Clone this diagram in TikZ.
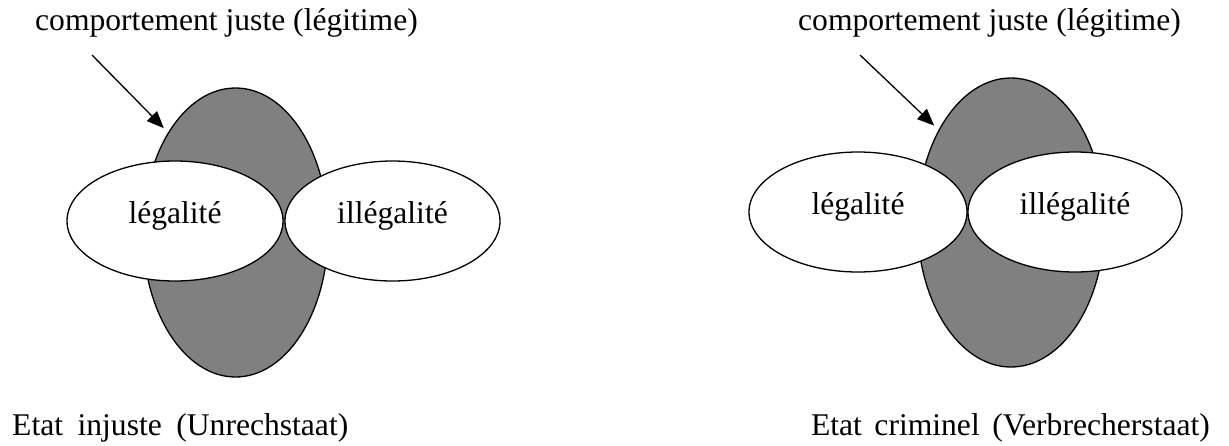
\documentclass[tikz,border=0pt]{standalone}
\usepackage{fontspec}
\setmainfont{Liberation Serif}
\usetikzlibrary{shapes.geometric,arrows.meta}
\tikzset{
  lbl/.style={font=\fontsize{31.6}{38}\selectfont, inner sep=0pt},
  grayell/.style={ellipse, draw=black, line width=1.3pt, fill={rgb,255:red,128;green,128;blue,128}, inner sep=0pt},
  whiteell/.style={ellipse, draw=black, line width=1.3pt, fill=white, inner sep=0pt,
    minimum width=216pt, minimum height=120pt,
    font=\fontsize{31.6}{38}\selectfont, text height=14pt, text depth=10pt},
  pointer/.style={line width=1.3pt, -{Triangle[length=17pt,width=14pt]}},
}
\begin{document}
\begin{tikzpicture}[x=1pt,y=-1pt]
\useasboundingbox (0,0) rectangle (1229,445);
% left diagram
\node[grayell, minimum width=185pt, minimum height=289pt] (grayL) at (235.5,232.5) {};
\node[whiteell] (legL) at (175,221) {légalité};
\node[whiteell, minimum width=215pt] (illegL) at (392.5,221) {illégalité};
\node[lbl, anchor=base west] (topL) at (35,30) {comportement juste (légitime)};
\coordinate (aL) at (92,55);
\draw[pointer, shorten >=6pt] (aL) -- (grayL.124);
\node[lbl, anchor=base west] (botL) at (12,435) {Etat\hspace{14.5pt}injuste\hspace{14.5pt}(Unrechstaat)};
% right diagram
\node[grayell, minimum width=187pt, minimum height=289pt] (grayR) at (1011,222.5) {};
\node[whiteell, minimum width=218pt] (legR) at (858,212) {légalité};
\node[whiteell, minimum width=214pt] (illegR) at (1075,212) {illégalité};
\node[lbl, anchor=base west] (topR) at (798,30) {comportement juste (légitime)};
\coordinate (aR) at (860,55);
\draw[pointer, shorten >=6pt] (aR) -- (grayR.128);
\node[lbl, anchor=base east] (botR) at (1210,435) {Etat\hspace{12.5pt}criminel\hspace{12.5pt}(Verbrecherstaat)};
\end{tikzpicture}
\end{document}
